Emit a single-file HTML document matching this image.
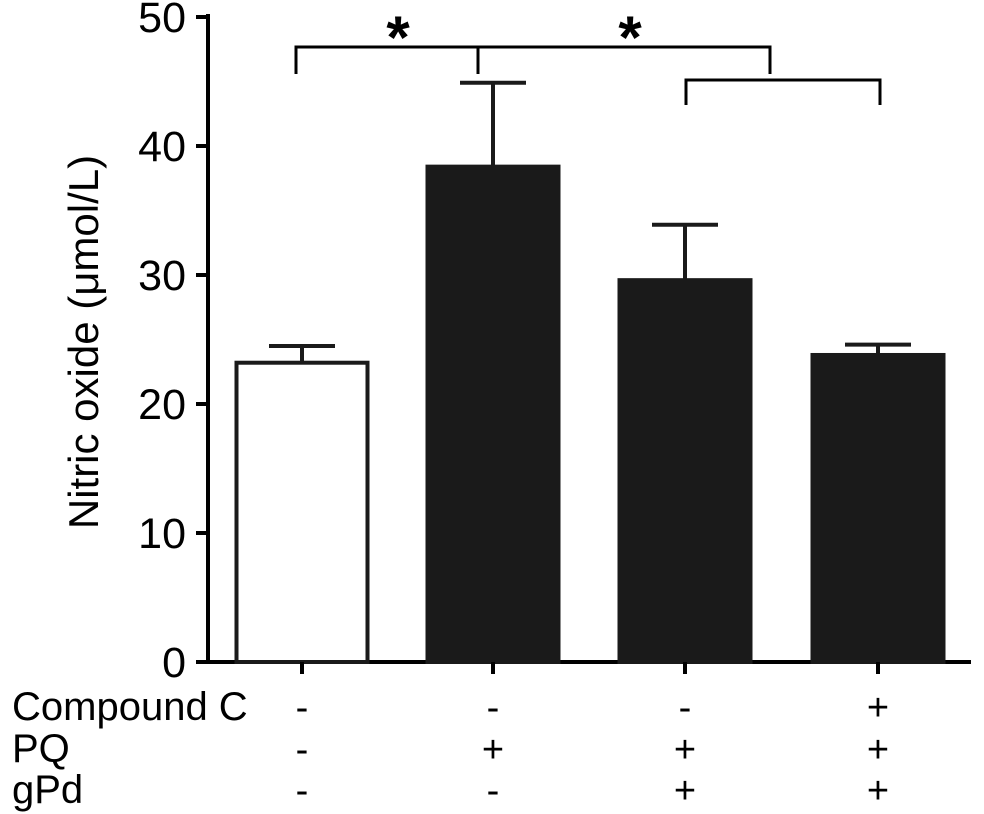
<!DOCTYPE html>
<html><head><meta charset="utf-8"><style>
body{margin:0;background:#fff;}
svg{display:block;font-family:"Liberation Sans",Arial,sans-serif;}
</style></head><body>
<svg id="chart" width="984" height="814" viewBox="0 0 984 814">
<g id="g"></g>
</svg>
<script>
const categories=["Control","PQ","PQ+gPd","PQ+gPd+CompoundC"];
const values=[23.2,38.4,29.6,23.8];
const errors=[1.3,6.5,4.3,0.8];
const fills=["#fff","#1a1a1a","#1a1a1a","#1a1a1a"];
const yTicks=[0,10,20,30,40,50];
const compoundRow=["-","-","-","+"];
const pqRow=["-","+","+","+"];
const gpdRow=["-","-","+","+"];
const ns="http://www.w3.org/2000/svg";
const g=document.getElementById('g');
const y0=662,pxPer=12.9;
function y(v){return y0-v*pxPer;}
const centers=[302,493,685,878];
const bw=131;
function el(t,a,p){const e=document.createElementNS(ns,t);for(const k in a)e.setAttribute(k,a[k]);(p||g).appendChild(e);return e;}
let ax=el('line',{x1:208,y1:14,x2:208,y2:663,stroke:'#000','stroke-width':4});


let xa=el('line',{x1:206,y1:662,x2:971,y2:662,stroke:'#000','stroke-width':4});


yTicks.forEach(t=>{
 let l=el('line',{x1:196,y1:y(t),x2:208,y2:y(t),stroke:'#000','stroke-width':4});
 
 
 let tx=el('text',{x:186,y:y(t)+15,'text-anchor':'end','font-size':43});
 tx.textContent=t;
 
 
});
let yt=el('text',{x:0,y:0,'text-anchor':'middle','font-size':42,transform:'translate(98,342) rotate(-90)'});
yt.textContent='Nitric oxide (μmol/L)';


categories.forEach((c,i)=>{
 const cx=centers[i];
 let e1=el('line',{x1:cx,y1:y(values[i]),x2:cx,y2:y(values[i]+errors[i]),stroke:'#1a1a1a','stroke-width':4});
 
 
 let e2=el('line',{x1:cx-33,y1:y(values[i]+errors[i]),x2:cx+33,y2:y(values[i]+errors[i]),stroke:'#1a1a1a','stroke-width':4});
 
 
 let r=el('rect',{x:cx-bw/2,y:y(values[i]),width:bw,height:y0-y(values[i]),fill:fills[i],stroke:'#1a1a1a','stroke-width':4});
 
 
 let tk=el('line',{x1:cx,y1:y0,x2:cx,y2:674,stroke:'#000','stroke-width':4});
 
 
 [[compoundRow,720],[pqRow,762],[gpdRow,803]].forEach(([row,yy])=>{
  let s=el('text',{x:cx,y:yy,'text-anchor':'middle','font-size':38});
  s.textContent=row[i];
  
  
 });
});
[['Compound C',720],['PQ',762],['gPd',803]].forEach(([t,yy])=>{
 let s=el('text',{x:12,y:yy,'font-size':40});
 s.textContent=t;
 
 
});
function bracket(x1,x2,top,bot,name){
 let p=el('path',{d:`M${x1},${bot}V${top}H${x2}V${bot}`,fill:'none',stroke:'#000','stroke-width':3});
 
 
}
bracket(296,478,47,74,'bracket-1');
bracket(478,770,47,74,'bracket-2');
bracket(686,880,80,105,'bracket-3');
[[398,'star-1'],[630,'star-2']].forEach(([x,n])=>{
 let s=el('text',{x:x,y:58,'text-anchor':'middle','font-size':60,'font-weight':'bold'});
 s.textContent='*';
 
 
});
</script>
</body></html>
